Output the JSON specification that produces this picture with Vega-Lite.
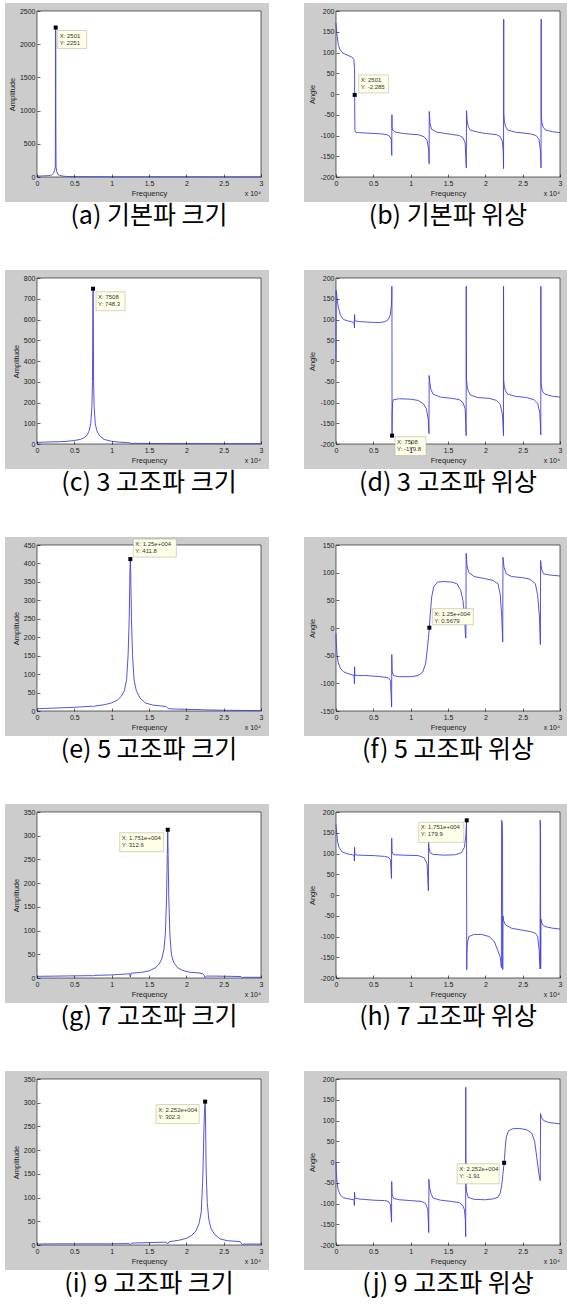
{
"$schema": "https://vega.github.io/schema/vega-lite/v6.json",
"background": "white",
"padding": {"left": 5, "top": 3, "right": 0, "bottom": 5},
"config": {
  "view": {"stroke": null},
  "axis": {"grid": false, "domain": false, "labelFont": "Liberation Sans", "labelFontSize": 7, "labelColor": "#222222", "labelOverlap": false, "titleFont": "Liberation Sans", "titleFontSize": 7.5, "titleFontWeight": "normal", "titleColor": "#222222", "tickSize": -3, "tickColor": "#000000", "tickWidth": 0.6, "labelPadding": 5, "labelFlush": false, "titlePadding": 3},
  "title": {"orient": "bottom", "anchor": "middle", "fontSize": 25, "font": "Noto Sans CJK KR", "fontWeight": "normal", "color": "#000000", "offset": 2}
},
"datasets": {
  "a": [{"f":0,"v":14},{"f":500,"v":15},{"f":1000,"v":17},{"f":1500,"v":20},{"f":1800,"v":25},{"f":2000,"v":33},{"f":2200,"v":55},{"f":2350,"v":95},{"f":2450,"v":150},{"f":2490,"v":1260},{"f":2501,"v":2251},{"f":2512,"v":1260},{"f":2550,"v":150},{"f":2650,"v":80},{"f":2800,"v":40},{"f":3000,"v":25},{"f":3500,"v":12},{"f":4000,"v":8},{"f":5000,"v":5},{"f":7500,"v":4},{"f":10000,"v":3},{"f":15000,"v":3},{"f":20000,"v":3},{"f":25000,"v":2},{"f":30000,"v":2}],
  "b": [{"f":0,"v":171},{"f":50,"v":160},{"f":150,"v":140},{"f":300,"v":120},{"f":500,"v":108},{"f":800,"v":100},{"f":1200,"v":96},{"f":1600,"v":93},{"f":2000,"v":90},{"f":2250,"v":87},{"f":2400,"v":83},{"f":2470,"v":60},{"f":2490,"v":55},{"f":2501,"v":-2.285},{"f":2515,"v":-60},{"f":2540,"v":-88},{"f":2650,"v":-92},{"f":3000,"v":-93},{"f":4000,"v":-94},{"f":5000,"v":-95},{"f":6000,"v":-96},{"f":6800,"v":-98},{"f":7200,"v":-102},{"f":7400,"v":-110},{"f":7470,"v":-148},{"f":7490,"v":-50},{"f":7510,"v":-80},{"f":7600,"v":-87},{"f":8000,"v":-92},{"f":9000,"v":-95},{"f":10000,"v":-97},{"f":11000,"v":-98},{"f":11800,"v":-103},{"f":12200,"v":-112},{"f":12420,"v":-135},{"f":12470,"v":-168},{"f":12490,"v":-42},{"f":12510,"v":-48},{"f":12600,"v":-72},{"f":12800,"v":-85},{"f":13500,"v":-92},{"f":15000,"v":-96},{"f":16500,"v":-100},{"f":17000,"v":-105},{"f":17300,"v":-118},{"f":17450,"v":-178},{"f":17480,"v":-40},{"f":17550,"v":-62},{"f":17700,"v":-78},{"f":18000,"v":-87},{"f":19000,"v":-92},{"f":20000,"v":-95},{"f":21500,"v":-98},{"f":22000,"v":-103},{"f":22300,"v":-115},{"f":22400,"v":-140},{"f":22440,"v":-180},{"f":22445,"v":180},{"f":22475,"v":180},{"f":22480,"v":-48},{"f":22550,"v":-65},{"f":22700,"v":-78},{"f":23000,"v":-87},{"f":24000,"v":-92},{"f":25000,"v":-94},{"f":26000,"v":-96},{"f":26800,"v":-100},{"f":27200,"v":-110},{"f":27400,"v":-140},{"f":27460,"v":-178},{"f":27470,"v":180},{"f":27490,"v":180},{"f":27495,"v":-50},{"f":27550,"v":-65},{"f":27700,"v":-78},{"f":28000,"v":-86},{"f":29000,"v":-91},{"f":30000,"v":-93}],
  "c": [{"f":0,"v":8},{"f":1000,"v":9},{"f":2000,"v":10},{"f":3000,"v":11},{"f":4000,"v":13},{"f":5000,"v":17},{"f":5800,"v":22},{"f":6300,"v":30},{"f":6700,"v":42},{"f":7000,"v":65},{"f":7200,"v":100},{"f":7350,"v":180},{"f":7430,"v":300},{"f":7480,"v":650},{"f":7508,"v":748.3},{"f":7530,"v":650},{"f":7580,"v":300},{"f":7650,"v":180},{"f":7800,"v":100},{"f":8000,"v":65},{"f":8400,"v":38},{"f":9000,"v":22},{"f":10000,"v":13},{"f":11000,"v":9},{"f":12000,"v":7},{"f":12400,"v":6},{"f":12600,"v":3},{"f":13500,"v":3},{"f":15000,"v":2.5},{"f":17500,"v":2},{"f":20000,"v":2},{"f":25000,"v":1.5},{"f":30000,"v":1.5}],
  "d": [{"f":0,"v":0},{"f":20,"v":170},{"f":150,"v":150},{"f":300,"v":130},{"f":600,"v":110},{"f":1000,"v":100},{"f":1500,"v":97},{"f":2000,"v":95},{"f":2400,"v":93},{"f":2470,"v":80},{"f":2490,"v":112},{"f":2520,"v":97},{"f":3000,"v":95},{"f":4000,"v":94},{"f":5000,"v":93},{"f":6000,"v":93},{"f":6600,"v":95},{"f":7000,"v":100},{"f":7250,"v":110},{"f":7400,"v":130},{"f":7460,"v":150},{"f":7480,"v":180},{"f":7495,"v":140},{"f":7508,"v":-179.8},{"f":7520,"v":-130},{"f":7580,"v":-100},{"f":7700,"v":-93},{"f":8500,"v":-91},{"f":10000,"v":-92},{"f":11000,"v":-95},{"f":11700,"v":-103},{"f":12100,"v":-115},{"f":12350,"v":-140},{"f":12450,"v":-175},{"f":12480,"v":-35},{"f":12550,"v":-50},{"f":12700,"v":-68},{"f":13000,"v":-80},{"f":14000,"v":-87},{"f":15500,"v":-90},{"f":16500,"v":-93},{"f":17000,"v":-100},{"f":17300,"v":-115},{"f":17430,"v":-180},{"f":17440,"v":180},{"f":17460,"v":-40},{"f":17550,"v":-58},{"f":17700,"v":-72},{"f":18000,"v":-82},{"f":19000,"v":-88},{"f":20500,"v":-90},{"f":21500,"v":-95},{"f":22000,"v":-105},{"f":22300,"v":-130},{"f":22430,"v":-180},{"f":22440,"v":180},{"f":22460,"v":-45},{"f":22550,"v":-62},{"f":22700,"v":-72},{"f":23000,"v":-80},{"f":24000,"v":-85},{"f":25500,"v":-88},{"f":26500,"v":-93},{"f":27000,"v":-102},{"f":27300,"v":-125},{"f":27430,"v":-178},{"f":27440,"v":180},{"f":27460,"v":-50},{"f":27550,"v":-65},{"f":27700,"v":-74},{"f":28000,"v":-80},{"f":29000,"v":-85},{"f":30000,"v":-87}],
  "e": [{"f":0,"v":6},{"f":1000,"v":7},{"f":2500,"v":8},{"f":5000,"v":10},{"f":7400,"v":13},{"f":7500,"v":11},{"f":7600,"v":13},{"f":9000,"v":17},{"f":10000,"v":22},{"f":10800,"v":30},{"f":11300,"v":40},{"f":11700,"v":55},{"f":12000,"v":85},{"f":12200,"v":150},{"f":12350,"v":250},{"f":12450,"v":380},{"f":12500,"v":411.8},{"f":12550,"v":380},{"f":12650,"v":250},{"f":12800,"v":150},{"f":13000,"v":85},{"f":13300,"v":55},{"f":13800,"v":35},{"f":14500,"v":22},{"f":15500,"v":16},{"f":16500,"v":14},{"f":17300,"v":12},{"f":17500,"v":8},{"f":17700,"v":6},{"f":19000,"v":5},{"f":21000,"v":4},{"f":22500,"v":3},{"f":25000,"v":2},{"f":27500,"v":1.5},{"f":30000,"v":1}],
  "f": [{"f":0,"v":-10},{"f":50,"v":-30},{"f":150,"v":-50},{"f":300,"v":-63},{"f":600,"v":-73},{"f":1000,"v":-79},{"f":1500,"v":-82},{"f":2000,"v":-84},{"f":2420,"v":-86},{"f":2470,"v":-101},{"f":2490,"v":-70},{"f":2520,"v":-85},{"f":3000,"v":-86},{"f":4000,"v":-86},{"f":5000,"v":-87},{"f":6000,"v":-88},{"f":7000,"v":-90},{"f":7300,"v":-95},{"f":7450,"v":-143},{"f":7470,"v":-48},{"f":7520,"v":-78},{"f":7700,"v":-86},{"f":8500,"v":-88},{"f":10000,"v":-88},{"f":11000,"v":-86},{"f":11600,"v":-80},{"f":12000,"v":-65},{"f":12250,"v":-35},{"f":12400,"v":-15},{"f":12500,"v":0.5679},{"f":12600,"v":20},{"f":12800,"v":55},{"f":13100,"v":75},{"f":13600,"v":83},{"f":14500,"v":84},{"f":15500,"v":83},{"f":16200,"v":80},{"f":16700,"v":68},{"f":17000,"v":50},{"f":17200,"v":25},{"f":17350,"v":-18},{"f":17400,"v":-18},{"f":17430,"v":135},{"f":17550,"v":112},{"f":17800,"v":100},{"f":18500,"v":93},{"f":20000,"v":89},{"f":21000,"v":86},{"f":21700,"v":80},{"f":22000,"v":60},{"f":22200,"v":20},{"f":22330,"v":-25},{"f":22360,"v":128},{"f":22500,"v":110},{"f":22800,"v":98},{"f":23500,"v":93},{"f":25000,"v":91},{"f":26000,"v":88},{"f":26700,"v":80},{"f":27000,"v":60},{"f":27250,"v":20},{"f":27370,"v":-30},{"f":27400,"v":122},{"f":27550,"v":105},{"f":27800,"v":98},{"f":28500,"v":96},{"f":30000,"v":94}],
  "g": [{"f":0,"v":3.5},{"f":2500,"v":4},{"f":5000,"v":4.5},{"f":7400,"v":5},{"f":7500,"v":4},{"f":7600,"v":5.5},{"f":10000,"v":6.5},{"f":12000,"v":8.5},{"f":12400,"v":9},{"f":12500,"v":2},{"f":12600,"v":10},{"f":14000,"v":12},{"f":15000,"v":15},{"f":15800,"v":21},{"f":16300,"v":28},{"f":16700,"v":40},{"f":17000,"v":60},{"f":17200,"v":95},{"f":17350,"v":170},{"f":17450,"v":260},{"f":17510,"v":312.6},{"f":17560,"v":260},{"f":17650,"v":170},{"f":17800,"v":90},{"f":18000,"v":50},{"f":18300,"v":33},{"f":18800,"v":22},{"f":19500,"v":16},{"f":20500,"v":12},{"f":21500,"v":11},{"f":22200,"v":9},{"f":22400,"v":5},{"f":22500,"v":1},{"f":22700,"v":4},{"f":24000,"v":4},{"f":26000,"v":3.5},{"f":27300,"v":3},{"f":27500,"v":0.5},{"f":27700,"v":1.5},{"f":30000,"v":1.5}],
  "h": [{"f":0,"v":170},{"f":50,"v":160},{"f":200,"v":130},{"f":400,"v":115},{"f":800,"v":104},{"f":1500,"v":99},{"f":2200,"v":97},{"f":2430,"v":95},{"f":2460,"v":82},{"f":2490,"v":115},{"f":2520,"v":97},{"f":3000,"v":96},{"f":5000,"v":95},{"f":6500,"v":93},{"f":7000,"v":91},{"f":7300,"v":85},{"f":7430,"v":40},{"f":7460,"v":137},{"f":7500,"v":105},{"f":7700,"v":97},{"f":9000,"v":96},{"f":11000,"v":95},{"f":11800,"v":90},{"f":12200,"v":75},{"f":12370,"v":10},{"f":12400,"v":127},{"f":12450,"v":115},{"f":12600,"v":102},{"f":13000,"v":98},{"f":14500,"v":96},{"f":16000,"v":97},{"f":16800,"v":102},{"f":17200,"v":115},{"f":17400,"v":145},{"f":17480,"v":179.9},{"f":17510,"v":-180},{"f":17530,"v":-140},{"f":17600,"v":-115},{"f":17800,"v":-100},{"f":18500,"v":-95},{"f":19500,"v":-95},{"f":20500,"v":-100},{"f":21200,"v":-112},{"f":21700,"v":-135},{"f":22000,"v":-150},{"f":22150,"v":-175},{"f":22180,"v":180},{"f":22260,"v":175},{"f":22300,"v":150},{"f":22330,"v":-180},{"f":22360,"v":-50},{"f":22450,"v":-62},{"f":22700,"v":-72},{"f":23500,"v":-80},{"f":25000,"v":-85},{"f":26000,"v":-88},{"f":26700,"v":-92},{"f":27000,"v":-100},{"f":27200,"v":-130},{"f":27330,"v":-178},{"f":27350,"v":180},{"f":27390,"v":150},{"f":27410,"v":-178},{"f":27440,"v":-58},{"f":27600,"v":-70},{"f":28000,"v":-76},{"f":29000,"v":-80},{"f":30000,"v":-82}],
  "i": [{"f":0,"v":2},{"f":2500,"v":2.5},{"f":5000,"v":2.5},{"f":10000,"v":2.5},{"f":12300,"v":3},{"f":12500,"v":1},{"f":12700,"v":4},{"f":15000,"v":5},{"f":17300,"v":6},{"f":17500,"v":2},{"f":17700,"v":7},{"f":19000,"v":10},{"f":20000,"v":14},{"f":20700,"v":20},{"f":21300,"v":30},{"f":21700,"v":45},{"f":22000,"v":70},{"f":22200,"v":140},{"f":22350,"v":240},{"f":22450,"v":290},{"f":22520,"v":302.3},{"f":22570,"v":270},{"f":22650,"v":160},{"f":22800,"v":90},{"f":23000,"v":55},{"f":23300,"v":35},{"f":23800,"v":22},{"f":24500,"v":13},{"f":25500,"v":9},{"f":26500,"v":8},{"f":27200,"v":7},{"f":27500,"v":1},{"f":27800,"v":2},{"f":30000,"v":2}],
  "j": [{"f":0,"v":0},{"f":40,"v":-25},{"f":150,"v":-50},{"f":300,"v":-68},{"f":600,"v":-80},{"f":1000,"v":-86},{"f":1500,"v":-88},{"f":2000,"v":-90},{"f":2420,"v":-91},{"f":2460,"v":-105},{"f":2490,"v":-73},{"f":2520,"v":-87},{"f":3000,"v":-89},{"f":5000,"v":-92},{"f":6500,"v":-93},{"f":7000,"v":-95},{"f":7300,"v":-103},{"f":7440,"v":-145},{"f":7460,"v":-47},{"f":7520,"v":-78},{"f":7700,"v":-88},{"f":8500,"v":-91},{"f":10000,"v":-93},{"f":11500,"v":-95},{"f":12000,"v":-100},{"f":12300,"v":-115},{"f":12420,"v":-170},{"f":12440,"v":-42},{"f":12500,"v":-58},{"f":12700,"v":-75},{"f":13000,"v":-87},{"f":14000,"v":-92},{"f":15500,"v":-95},{"f":16500,"v":-98},{"f":17000,"v":-105},{"f":17200,"v":-115},{"f":17330,"v":-140},{"f":17370,"v":-180},{"f":17380,"v":180},{"f":17400,"v":-50},{"f":17500,"v":-72},{"f":17700,"v":-85},{"f":18500,"v":-90},{"f":20000,"v":-91},{"f":21000,"v":-89},{"f":21700,"v":-85},{"f":22000,"v":-75},{"f":22200,"v":-55},{"f":22350,"v":-30},{"f":22520,"v":-1.91},{"f":22650,"v":30},{"f":22800,"v":60},{"f":23100,"v":75},{"f":23600,"v":80},{"f":24500,"v":81},{"f":25500,"v":78},{"f":26200,"v":70},{"f":26600,"v":50},{"f":26900,"v":10},{"f":27150,"v":-25},{"f":27350,"v":-45},{"f":27400,"v":117},{"f":27500,"v":108},{"f":27800,"v":100},{"f":28500,"v":95},{"f":30000,"v":92}]
},
"spacing": 41,
"vconcat": [
 {"spacing": 35, "hconcat": [
  {"width": 224, "height": 166, "title": {"text": "(a) 기본파 크기"},
   "layer": [
    {"data": {"values": [{}]}, "layer": [
      {"mark": {"type": "rect", "fill": "#cccccc", "xOffset": -32, "x2Offset": 8, "yOffset": 25, "y2Offset": -8},
       "encoding": {"x": {"datum": 0, "type": "quantitative", "title": "Frequency", "scale": {"domain": [0, 30000], "nice": false}}, "x2": {"datum": 30000}, "y": {"datum": 0, "type": "quantitative", "title": "Amplitude", "scale": {"domain": [0, 2500], "nice": false}}, "y2": {"datum": 2500}}},
      {"mark": {"type": "rect", "fill": "#ffffff", "stroke": "#000000", "strokeWidth": 0.6},
       "encoding": {"x": {"datum": 0, "type": "quantitative"}, "x2": {"datum": 30000}, "y": {"datum": 0, "type": "quantitative"}, "y2": {"datum": 2500}}},
      {"mark": {"type": "text", "text": "x 10⁴", "align": "right", "baseline": "middle", "dy": 17, "fontSize": 7, "font": "Liberation Sans", "color": "#222222"},
       "encoding": {"x": {"datum": 30000, "type": "quantitative"}, "y": {"datum": 0, "type": "quantitative"}}}
    ]},
    {"data": {"name": "a"}, "mark": {"type": "line", "color": "#4040dc", "strokeWidth": 0.9},
     "encoding": {"x": {"field": "f", "type": "quantitative", "title": "Frequency", "axis": {"zindex": 1, "tickCount": 20, "labelOverlap": false, "values": [0, 5000, 10000, 15000, 20000, 25000, 30000], "labelExpr": "format(datum.value / 10000, '~g')"}},
                  "y": {"field": "v", "type": "quantitative", "title": "Amplitude", "axis": {"zindex": 1, "tickCount": 20, "labelOverlap": false, "values": [0, 500, 1000, 1500, 2000, 2500], "labelExpr": "'' + datum.value"}}}},
    {"data": {"values": [{"f": 2501, "v": 2251, "tip": "X: 2501\nY: 2251"}]}, "layer": [
      {"mark": {"type": "rect", "fill": "#ffffe8", "stroke": "#a8a890", "strokeWidth": 0.5, "xOffset": 2, "x2Offset": 31, "yOffset": 3, "y2Offset": 21},
       "encoding": {"x": {"field": "f", "type": "quantitative"}, "x2": {"field": "f"}, "y": {"field": "v", "type": "quantitative"}, "y2": {"field": "v"}}},
      {"mark": {"type": "text", "align": "left", "baseline": "top", "dx": 4, "dy": 5, "fontSize": 6, "lineHeight": 7, "lineBreak": "\n", "font": "Liberation Sans", "color": "#333333"},
       "encoding": {"x": {"field": "f", "type": "quantitative"}, "y": {"field": "v", "type": "quantitative"}, "text": {"field": "tip"}}},
      {"mark": {"type": "square", "color": "#000000", "size": 16, "opacity": 1},
       "encoding": {"x": {"field": "f", "type": "quantitative"}, "y": {"field": "v", "type": "quantitative"}}}
    ]}
   ]},
  {"width": 224, "height": 166, "title": {"text": "(b) 기본파 위상"},
   "layer": [
    {"data": {"values": [{}]}, "layer": [
      {"mark": {"type": "rect", "fill": "#cccccc", "xOffset": -32, "x2Offset": 8, "yOffset": 25, "y2Offset": -8},
       "encoding": {"x": {"datum": 0, "type": "quantitative", "title": "Frequency", "scale": {"domain": [0, 30000], "nice": false}}, "x2": {"datum": 30000}, "y": {"datum": -200, "type": "quantitative", "title": "Angle", "scale": {"domain": [-200, 200], "nice": false}}, "y2": {"datum": 200}}},
      {"mark": {"type": "rect", "fill": "#ffffff", "stroke": "#000000", "strokeWidth": 0.6},
       "encoding": {"x": {"datum": 0, "type": "quantitative"}, "x2": {"datum": 30000}, "y": {"datum": -200, "type": "quantitative"}, "y2": {"datum": 200}}},
      {"mark": {"type": "text", "text": "x 10⁴", "align": "right", "baseline": "middle", "dy": 17, "fontSize": 7, "font": "Liberation Sans", "color": "#222222"},
       "encoding": {"x": {"datum": 30000, "type": "quantitative"}, "y": {"datum": -200, "type": "quantitative"}}}
    ]},
    {"data": {"name": "b"}, "mark": {"type": "line", "color": "#4040dc", "strokeWidth": 0.9},
     "encoding": {"x": {"field": "f", "type": "quantitative", "title": "Frequency", "axis": {"zindex": 1, "tickCount": 20, "labelOverlap": false, "values": [0, 5000, 10000, 15000, 20000, 25000, 30000], "labelExpr": "format(datum.value / 10000, '~g')"}},
                  "y": {"field": "v", "type": "quantitative", "title": "Angle", "axis": {"zindex": 1, "tickCount": 20, "labelOverlap": false, "values": [-200, -150, -100, -50, 0, 50, 100, 150, 200], "labelExpr": "'' + datum.value"}}}},
    {"data": {"values": [{"f": 2501, "v": -2.285, "tip": "X: 2501\nY: -2.285"}]}, "layer": [
      {"mark": {"type": "rect", "fill": "#ffffe8", "stroke": "#a8a890", "strokeWidth": 0.5, "xOffset": 4, "x2Offset": 34, "yOffset": -20, "y2Offset": -2},
       "encoding": {"x": {"field": "f", "type": "quantitative"}, "x2": {"field": "f"}, "y": {"field": "v", "type": "quantitative"}, "y2": {"field": "v"}}},
      {"mark": {"type": "text", "align": "left", "baseline": "top", "dx": 6, "dy": -18, "fontSize": 6, "lineHeight": 7, "lineBreak": "\n", "font": "Liberation Sans", "color": "#333333"},
       "encoding": {"x": {"field": "f", "type": "quantitative"}, "y": {"field": "v", "type": "quantitative"}, "text": {"field": "tip"}}},
      {"mark": {"type": "square", "color": "#000000", "size": 16, "opacity": 1},
       "encoding": {"x": {"field": "f", "type": "quantitative"}, "y": {"field": "v", "type": "quantitative"}}}
    ]}
   ]}
 ]},
 {"spacing": 35, "hconcat": [
  {"width": 224, "height": 166, "title": {"text": "(c) 3 고조파 크기"},
   "layer": [
    {"data": {"values": [{}]}, "layer": [
      {"mark": {"type": "rect", "fill": "#cccccc", "xOffset": -32, "x2Offset": 8, "yOffset": 25, "y2Offset": -8},
       "encoding": {"x": {"datum": 0, "type": "quantitative", "title": "Frequency", "scale": {"domain": [0, 30000], "nice": false}}, "x2": {"datum": 30000}, "y": {"datum": 0, "type": "quantitative", "title": "Amplitude", "scale": {"domain": [0, 800], "nice": false}}, "y2": {"datum": 800}}},
      {"mark": {"type": "rect", "fill": "#ffffff", "stroke": "#000000", "strokeWidth": 0.6},
       "encoding": {"x": {"datum": 0, "type": "quantitative"}, "x2": {"datum": 30000}, "y": {"datum": 0, "type": "quantitative"}, "y2": {"datum": 800}}},
      {"mark": {"type": "text", "text": "x 10⁴", "align": "right", "baseline": "middle", "dy": 17, "fontSize": 7, "font": "Liberation Sans", "color": "#222222"},
       "encoding": {"x": {"datum": 30000, "type": "quantitative"}, "y": {"datum": 0, "type": "quantitative"}}}
    ]},
    {"data": {"name": "c"}, "mark": {"type": "line", "color": "#4040dc", "strokeWidth": 0.9},
     "encoding": {"x": {"field": "f", "type": "quantitative", "title": "Frequency", "axis": {"zindex": 1, "tickCount": 20, "labelOverlap": false, "values": [0, 5000, 10000, 15000, 20000, 25000, 30000], "labelExpr": "format(datum.value / 10000, '~g')"}},
                  "y": {"field": "v", "type": "quantitative", "title": "Amplitude", "axis": {"zindex": 1, "tickCount": 20, "labelOverlap": false, "values": [0, 100, 200, 300, 400, 500, 600, 700, 800], "labelExpr": "'' + datum.value"}}}},
    {"data": {"values": [{"f": 7508, "v": 748.3, "tip": "X: 7508\nY: 748.3"}]}, "layer": [
      {"mark": {"type": "rect", "fill": "#ffffe8", "stroke": "#a8a890", "strokeWidth": 0.5, "xOffset": 3, "x2Offset": 32, "yOffset": 3, "y2Offset": 22},
       "encoding": {"x": {"field": "f", "type": "quantitative"}, "x2": {"field": "f"}, "y": {"field": "v", "type": "quantitative"}, "y2": {"field": "v"}}},
      {"mark": {"type": "text", "align": "left", "baseline": "top", "dx": 5, "dy": 5, "fontSize": 6, "lineHeight": 7, "lineBreak": "\n", "font": "Liberation Sans", "color": "#333333"},
       "encoding": {"x": {"field": "f", "type": "quantitative"}, "y": {"field": "v", "type": "quantitative"}, "text": {"field": "tip"}}},
      {"mark": {"type": "square", "color": "#000000", "size": 16, "opacity": 1},
       "encoding": {"x": {"field": "f", "type": "quantitative"}, "y": {"field": "v", "type": "quantitative"}}}
    ]}
   ]},
  {"width": 224, "height": 166, "title": {"text": "(d) 3 고조파 위상"},
   "layer": [
    {"data": {"values": [{}]}, "layer": [
      {"mark": {"type": "rect", "fill": "#cccccc", "xOffset": -32, "x2Offset": 8, "yOffset": 25, "y2Offset": -8},
       "encoding": {"x": {"datum": 0, "type": "quantitative", "title": "Frequency", "scale": {"domain": [0, 30000], "nice": false}}, "x2": {"datum": 30000}, "y": {"datum": -200, "type": "quantitative", "title": "Angle", "scale": {"domain": [-200, 200], "nice": false}}, "y2": {"datum": 200}}},
      {"mark": {"type": "rect", "fill": "#ffffff", "stroke": "#000000", "strokeWidth": 0.6},
       "encoding": {"x": {"datum": 0, "type": "quantitative"}, "x2": {"datum": 30000}, "y": {"datum": -200, "type": "quantitative"}, "y2": {"datum": 200}}},
      {"mark": {"type": "text", "text": "x 10⁴", "align": "right", "baseline": "middle", "dy": 17, "fontSize": 7, "font": "Liberation Sans", "color": "#222222"},
       "encoding": {"x": {"datum": 30000, "type": "quantitative"}, "y": {"datum": -200, "type": "quantitative"}}}
    ]},
    {"data": {"name": "d"}, "mark": {"type": "line", "color": "#4040dc", "strokeWidth": 0.9},
     "encoding": {"x": {"field": "f", "type": "quantitative", "title": "Frequency", "axis": {"zindex": 1, "tickCount": 20, "labelOverlap": false, "values": [0, 5000, 10000, 15000, 20000, 25000, 30000], "labelExpr": "format(datum.value / 10000, '~g')"}},
                  "y": {"field": "v", "type": "quantitative", "title": "Angle", "axis": {"zindex": 1, "tickCount": 20, "labelOverlap": false, "values": [-200, -150, -100, -50, 0, 50, 100, 150, 200], "labelExpr": "'' + datum.value"}}}},
    {"data": {"values": [{"f": 7508, "v": -179.8, "tip": "X: 7508\nY: -179.8"}]}, "layer": [
      {"mark": {"type": "rect", "fill": "#ffffe8", "stroke": "#a8a890", "strokeWidth": 0.5, "xOffset": 3, "x2Offset": 34, "yOffset": 1, "y2Offset": 20},
       "encoding": {"x": {"field": "f", "type": "quantitative"}, "x2": {"field": "f"}, "y": {"field": "v", "type": "quantitative"}, "y2": {"field": "v"}}},
      {"mark": {"type": "text", "align": "left", "baseline": "top", "dx": 5, "dy": 3, "fontSize": 6, "lineHeight": 7, "lineBreak": "\n", "font": "Liberation Sans", "color": "#333333"},
       "encoding": {"x": {"field": "f", "type": "quantitative"}, "y": {"field": "v", "type": "quantitative"}, "text": {"field": "tip"}}},
      {"mark": {"type": "square", "color": "#000000", "size": 16, "opacity": 1},
       "encoding": {"x": {"field": "f", "type": "quantitative"}, "y": {"field": "v", "type": "quantitative"}}}
    ]}
   ]}
 ]},
 {"spacing": 35, "hconcat": [
  {"width": 224, "height": 166, "title": {"text": "(e) 5 고조파 크기"},
   "layer": [
    {"data": {"values": [{}]}, "layer": [
      {"mark": {"type": "rect", "fill": "#cccccc", "xOffset": -32, "x2Offset": 8, "yOffset": 25, "y2Offset": -8},
       "encoding": {"x": {"datum": 0, "type": "quantitative", "title": "Frequency", "scale": {"domain": [0, 30000], "nice": false}}, "x2": {"datum": 30000}, "y": {"datum": 0, "type": "quantitative", "title": "Amplitude", "scale": {"domain": [0, 450], "nice": false}}, "y2": {"datum": 450}}},
      {"mark": {"type": "rect", "fill": "#ffffff", "stroke": "#000000", "strokeWidth": 0.6},
       "encoding": {"x": {"datum": 0, "type": "quantitative"}, "x2": {"datum": 30000}, "y": {"datum": 0, "type": "quantitative"}, "y2": {"datum": 450}}},
      {"mark": {"type": "text", "text": "x 10⁴", "align": "right", "baseline": "middle", "dy": 17, "fontSize": 7, "font": "Liberation Sans", "color": "#222222"},
       "encoding": {"x": {"datum": 30000, "type": "quantitative"}, "y": {"datum": 0, "type": "quantitative"}}}
    ]},
    {"data": {"name": "e"}, "mark": {"type": "line", "color": "#4040dc", "strokeWidth": 0.9},
     "encoding": {"x": {"field": "f", "type": "quantitative", "title": "Frequency", "axis": {"zindex": 1, "tickCount": 20, "labelOverlap": false, "values": [0, 5000, 10000, 15000, 20000, 25000, 30000], "labelExpr": "format(datum.value / 10000, '~g')"}},
                  "y": {"field": "v", "type": "quantitative", "title": "Amplitude", "axis": {"zindex": 1, "tickCount": 20, "labelOverlap": false, "values": [0, 50, 100, 150, 200, 250, 300, 350, 400, 450], "labelExpr": "'' + datum.value"}}}},
    {"data": {"values": [{"f": 12500, "v": 411.8, "tip": "X: 1.25e+004\nY: 411.8"}]}, "layer": [
      {"mark": {"type": "rect", "fill": "#ffffe8", "stroke": "#a8a890", "strokeWidth": 0.5, "xOffset": 3, "x2Offset": 46, "yOffset": -20, "y2Offset": -2},
       "encoding": {"x": {"field": "f", "type": "quantitative"}, "x2": {"field": "f"}, "y": {"field": "v", "type": "quantitative"}, "y2": {"field": "v"}}},
      {"mark": {"type": "text", "align": "left", "baseline": "top", "dx": 5, "dy": -18, "fontSize": 6, "lineHeight": 7, "lineBreak": "\n", "font": "Liberation Sans", "color": "#333333"},
       "encoding": {"x": {"field": "f", "type": "quantitative"}, "y": {"field": "v", "type": "quantitative"}, "text": {"field": "tip"}}},
      {"mark": {"type": "square", "color": "#000000", "size": 16, "opacity": 1},
       "encoding": {"x": {"field": "f", "type": "quantitative"}, "y": {"field": "v", "type": "quantitative"}}}
    ]}
   ]},
  {"width": 224, "height": 166, "title": {"text": "(f) 5 고조파 위상"},
   "layer": [
    {"data": {"values": [{}]}, "layer": [
      {"mark": {"type": "rect", "fill": "#cccccc", "xOffset": -32, "x2Offset": 8, "yOffset": 25, "y2Offset": -8},
       "encoding": {"x": {"datum": 0, "type": "quantitative", "title": "Frequency", "scale": {"domain": [0, 30000], "nice": false}}, "x2": {"datum": 30000}, "y": {"datum": -150, "type": "quantitative", "title": "Angle", "scale": {"domain": [-150, 150], "nice": false}}, "y2": {"datum": 150}}},
      {"mark": {"type": "rect", "fill": "#ffffff", "stroke": "#000000", "strokeWidth": 0.6},
       "encoding": {"x": {"datum": 0, "type": "quantitative"}, "x2": {"datum": 30000}, "y": {"datum": -150, "type": "quantitative"}, "y2": {"datum": 150}}},
      {"mark": {"type": "text", "text": "x 10⁴", "align": "right", "baseline": "middle", "dy": 17, "fontSize": 7, "font": "Liberation Sans", "color": "#222222"},
       "encoding": {"x": {"datum": 30000, "type": "quantitative"}, "y": {"datum": -150, "type": "quantitative"}}}
    ]},
    {"data": {"name": "f"}, "mark": {"type": "line", "color": "#4040dc", "strokeWidth": 0.9},
     "encoding": {"x": {"field": "f", "type": "quantitative", "title": "Frequency", "axis": {"zindex": 1, "tickCount": 20, "labelOverlap": false, "values": [0, 5000, 10000, 15000, 20000, 25000, 30000], "labelExpr": "format(datum.value / 10000, '~g')"}},
                  "y": {"field": "v", "type": "quantitative", "title": "Angle", "axis": {"zindex": 1, "tickCount": 20, "labelOverlap": false, "values": [-150, -100, -50, 0, 50, 100, 150], "labelExpr": "'' + datum.value"}}}},
    {"data": {"values": [{"f": 12500, "v": 0.5679, "tip": "X: 1.25e+004\nY: 0.5679"}]}, "layer": [
      {"mark": {"type": "rect", "fill": "#ffffe8", "stroke": "#a8a890", "strokeWidth": 0.5, "xOffset": 3, "x2Offset": 44, "yOffset": -19, "y2Offset": -3},
       "encoding": {"x": {"field": "f", "type": "quantitative"}, "x2": {"field": "f"}, "y": {"field": "v", "type": "quantitative"}, "y2": {"field": "v"}}},
      {"mark": {"type": "text", "align": "left", "baseline": "top", "dx": 5, "dy": -17, "fontSize": 6, "lineHeight": 7, "lineBreak": "\n", "font": "Liberation Sans", "color": "#333333"},
       "encoding": {"x": {"field": "f", "type": "quantitative"}, "y": {"field": "v", "type": "quantitative"}, "text": {"field": "tip"}}},
      {"mark": {"type": "square", "color": "#000000", "size": 16, "opacity": 1},
       "encoding": {"x": {"field": "f", "type": "quantitative"}, "y": {"field": "v", "type": "quantitative"}}}
    ]}
   ]}
 ]},
 {"spacing": 35, "hconcat": [
  {"width": 224, "height": 166, "title": {"text": "(g) 7 고조파 크기"},
   "layer": [
    {"data": {"values": [{}]}, "layer": [
      {"mark": {"type": "rect", "fill": "#cccccc", "xOffset": -32, "x2Offset": 8, "yOffset": 25, "y2Offset": -8},
       "encoding": {"x": {"datum": 0, "type": "quantitative", "title": "Frequency", "scale": {"domain": [0, 30000], "nice": false}}, "x2": {"datum": 30000}, "y": {"datum": 0, "type": "quantitative", "title": "Amplitude", "scale": {"domain": [0, 350], "nice": false}}, "y2": {"datum": 350}}},
      {"mark": {"type": "rect", "fill": "#ffffff", "stroke": "#000000", "strokeWidth": 0.6},
       "encoding": {"x": {"datum": 0, "type": "quantitative"}, "x2": {"datum": 30000}, "y": {"datum": 0, "type": "quantitative"}, "y2": {"datum": 350}}},
      {"mark": {"type": "text", "text": "x 10⁴", "align": "right", "baseline": "middle", "dy": 17, "fontSize": 7, "font": "Liberation Sans", "color": "#222222"},
       "encoding": {"x": {"datum": 30000, "type": "quantitative"}, "y": {"datum": 0, "type": "quantitative"}}}
    ]},
    {"data": {"name": "g"}, "mark": {"type": "line", "color": "#4040dc", "strokeWidth": 0.9},
     "encoding": {"x": {"field": "f", "type": "quantitative", "title": "Frequency", "axis": {"zindex": 1, "tickCount": 20, "labelOverlap": false, "values": [0, 5000, 10000, 15000, 20000, 25000, 30000], "labelExpr": "format(datum.value / 10000, '~g')"}},
                  "y": {"field": "v", "type": "quantitative", "title": "Amplitude", "axis": {"zindex": 1, "tickCount": 20, "labelOverlap": false, "values": [0, 50, 100, 150, 200, 250, 300, 350], "labelExpr": "'' + datum.value"}}}},
    {"data": {"values": [{"f": 17510, "v": 312.6, "tip": "X: 1.751e+004\nY: 312.6"}]}, "layer": [
      {"mark": {"type": "rect", "fill": "#ffffe8", "stroke": "#a8a890", "strokeWidth": 0.5, "xOffset": -48, "x2Offset": -4, "yOffset": 3, "y2Offset": 22},
       "encoding": {"x": {"field": "f", "type": "quantitative"}, "x2": {"field": "f"}, "y": {"field": "v", "type": "quantitative"}, "y2": {"field": "v"}}},
      {"mark": {"type": "text", "align": "left", "baseline": "top", "dx": -46, "dy": 5, "fontSize": 6, "lineHeight": 7, "lineBreak": "\n", "font": "Liberation Sans", "color": "#333333"},
       "encoding": {"x": {"field": "f", "type": "quantitative"}, "y": {"field": "v", "type": "quantitative"}, "text": {"field": "tip"}}},
      {"mark": {"type": "square", "color": "#000000", "size": 16, "opacity": 1},
       "encoding": {"x": {"field": "f", "type": "quantitative"}, "y": {"field": "v", "type": "quantitative"}}}
    ]}
   ]},
  {"width": 224, "height": 166, "title": {"text": "(h) 7 고조파 위상"},
   "layer": [
    {"data": {"values": [{}]}, "layer": [
      {"mark": {"type": "rect", "fill": "#cccccc", "xOffset": -32, "x2Offset": 8, "yOffset": 25, "y2Offset": -8},
       "encoding": {"x": {"datum": 0, "type": "quantitative", "title": "Frequency", "scale": {"domain": [0, 30000], "nice": false}}, "x2": {"datum": 30000}, "y": {"datum": -200, "type": "quantitative", "title": "Angle", "scale": {"domain": [-200, 200], "nice": false}}, "y2": {"datum": 200}}},
      {"mark": {"type": "rect", "fill": "#ffffff", "stroke": "#000000", "strokeWidth": 0.6},
       "encoding": {"x": {"datum": 0, "type": "quantitative"}, "x2": {"datum": 30000}, "y": {"datum": -200, "type": "quantitative"}, "y2": {"datum": 200}}},
      {"mark": {"type": "text", "text": "x 10⁴", "align": "right", "baseline": "middle", "dy": 17, "fontSize": 7, "font": "Liberation Sans", "color": "#222222"},
       "encoding": {"x": {"datum": 30000, "type": "quantitative"}, "y": {"datum": -200, "type": "quantitative"}}}
    ]},
    {"data": {"name": "h"}, "mark": {"type": "line", "color": "#4040dc", "strokeWidth": 0.9},
     "encoding": {"x": {"field": "f", "type": "quantitative", "title": "Frequency", "axis": {"zindex": 1, "tickCount": 20, "labelOverlap": false, "values": [0, 5000, 10000, 15000, 20000, 25000, 30000], "labelExpr": "format(datum.value / 10000, '~g')"}},
                  "y": {"field": "v", "type": "quantitative", "title": "Angle", "axis": {"zindex": 1, "tickCount": 20, "labelOverlap": false, "values": [-200, -150, -100, -50, 0, 50, 100, 150, 200], "labelExpr": "'' + datum.value"}}}},
    {"data": {"values": [{"f": 17510, "v": 179.9, "tip": "X: 1.751e+004\nY: 179.9"}]}, "layer": [
      {"mark": {"type": "rect", "fill": "#ffffe8", "stroke": "#a8a890", "strokeWidth": 0.5, "xOffset": -48, "x2Offset": -3, "yOffset": 2, "y2Offset": 22},
       "encoding": {"x": {"field": "f", "type": "quantitative"}, "x2": {"field": "f"}, "y": {"field": "v", "type": "quantitative"}, "y2": {"field": "v"}}},
      {"mark": {"type": "text", "align": "left", "baseline": "top", "dx": -46, "dy": 4, "fontSize": 6, "lineHeight": 7, "lineBreak": "\n", "font": "Liberation Sans", "color": "#333333"},
       "encoding": {"x": {"field": "f", "type": "quantitative"}, "y": {"field": "v", "type": "quantitative"}, "text": {"field": "tip"}}},
      {"mark": {"type": "square", "color": "#000000", "size": 16, "opacity": 1},
       "encoding": {"x": {"field": "f", "type": "quantitative"}, "y": {"field": "v", "type": "quantitative"}}}
    ]}
   ]}
 ]},
 {"spacing": 35, "hconcat": [
  {"width": 224, "height": 166, "title": {"text": "(i) 9 고조파 크기"},
   "layer": [
    {"data": {"values": [{}]}, "layer": [
      {"mark": {"type": "rect", "fill": "#cccccc", "xOffset": -32, "x2Offset": 8, "yOffset": 25, "y2Offset": -8},
       "encoding": {"x": {"datum": 0, "type": "quantitative", "title": "Frequency", "scale": {"domain": [0, 30000], "nice": false}}, "x2": {"datum": 30000}, "y": {"datum": 0, "type": "quantitative", "title": "Amplitude", "scale": {"domain": [0, 350], "nice": false}}, "y2": {"datum": 350}}},
      {"mark": {"type": "rect", "fill": "#ffffff", "stroke": "#000000", "strokeWidth": 0.6},
       "encoding": {"x": {"datum": 0, "type": "quantitative"}, "x2": {"datum": 30000}, "y": {"datum": 0, "type": "quantitative"}, "y2": {"datum": 350}}},
      {"mark": {"type": "text", "text": "x 10⁴", "align": "right", "baseline": "middle", "dy": 17, "fontSize": 7, "font": "Liberation Sans", "color": "#222222"},
       "encoding": {"x": {"datum": 30000, "type": "quantitative"}, "y": {"datum": 0, "type": "quantitative"}}}
    ]},
    {"data": {"name": "i"}, "mark": {"type": "line", "color": "#4040dc", "strokeWidth": 0.9},
     "encoding": {"x": {"field": "f", "type": "quantitative", "title": "Frequency", "axis": {"zindex": 1, "tickCount": 20, "labelOverlap": false, "values": [0, 5000, 10000, 15000, 20000, 25000, 30000], "labelExpr": "format(datum.value / 10000, '~g')"}},
                  "y": {"field": "v", "type": "quantitative", "title": "Amplitude", "axis": {"zindex": 1, "tickCount": 20, "labelOverlap": false, "values": [0, 50, 100, 150, 200, 250, 300, 350], "labelExpr": "'' + datum.value"}}}},
    {"data": {"values": [{"f": 22520, "v": 302.3, "tip": "X: 2.252e+004\nY: 302.3"}]}, "layer": [
      {"mark": {"type": "rect", "fill": "#ffffe8", "stroke": "#a8a890", "strokeWidth": 0.5, "xOffset": -49, "x2Offset": -6, "yOffset": 3, "y2Offset": 22},
       "encoding": {"x": {"field": "f", "type": "quantitative"}, "x2": {"field": "f"}, "y": {"field": "v", "type": "quantitative"}, "y2": {"field": "v"}}},
      {"mark": {"type": "text", "align": "left", "baseline": "top", "dx": -47, "dy": 5, "fontSize": 6, "lineHeight": 7, "lineBreak": "\n", "font": "Liberation Sans", "color": "#333333"},
       "encoding": {"x": {"field": "f", "type": "quantitative"}, "y": {"field": "v", "type": "quantitative"}, "text": {"field": "tip"}}},
      {"mark": {"type": "square", "color": "#000000", "size": 16, "opacity": 1},
       "encoding": {"x": {"field": "f", "type": "quantitative"}, "y": {"field": "v", "type": "quantitative"}}}
    ]}
   ]},
  {"width": 224, "height": 166, "title": {"text": "(j) 9 고조파 위상"},
   "layer": [
    {"data": {"values": [{}]}, "layer": [
      {"mark": {"type": "rect", "fill": "#cccccc", "xOffset": -32, "x2Offset": 8, "yOffset": 25, "y2Offset": -8},
       "encoding": {"x": {"datum": 0, "type": "quantitative", "title": "Frequency", "scale": {"domain": [0, 30000], "nice": false}}, "x2": {"datum": 30000}, "y": {"datum": -200, "type": "quantitative", "title": "Angle", "scale": {"domain": [-200, 200], "nice": false}}, "y2": {"datum": 200}}},
      {"mark": {"type": "rect", "fill": "#ffffff", "stroke": "#000000", "strokeWidth": 0.6},
       "encoding": {"x": {"datum": 0, "type": "quantitative"}, "x2": {"datum": 30000}, "y": {"datum": -200, "type": "quantitative"}, "y2": {"datum": 200}}},
      {"mark": {"type": "text", "text": "x 10⁴", "align": "right", "baseline": "middle", "dy": 17, "fontSize": 7, "font": "Liberation Sans", "color": "#222222"},
       "encoding": {"x": {"datum": 30000, "type": "quantitative"}, "y": {"datum": -200, "type": "quantitative"}}}
    ]},
    {"data": {"name": "j"}, "mark": {"type": "line", "color": "#4040dc", "strokeWidth": 0.9},
     "encoding": {"x": {"field": "f", "type": "quantitative", "title": "Frequency", "axis": {"zindex": 1, "tickCount": 20, "labelOverlap": false, "values": [0, 5000, 10000, 15000, 20000, 25000, 30000], "labelExpr": "format(datum.value / 10000, '~g')"}},
                  "y": {"field": "v", "type": "quantitative", "title": "Angle", "axis": {"zindex": 1, "tickCount": 20, "labelOverlap": false, "values": [-200, -150, -100, -50, 0, 50, 100, 150, 200], "labelExpr": "'' + datum.value"}}}},
    {"data": {"values": [{"f": 22520, "v": -1.91, "tip": "X: 2.252e+004\nY: -1.91"}]}, "layer": [
      {"mark": {"type": "rect", "fill": "#ffffe8", "stroke": "#a8a890", "strokeWidth": 0.5, "xOffset": -47, "x2Offset": -5, "yOffset": 1, "y2Offset": 21},
       "encoding": {"x": {"field": "f", "type": "quantitative"}, "x2": {"field": "f"}, "y": {"field": "v", "type": "quantitative"}, "y2": {"field": "v"}}},
      {"mark": {"type": "text", "align": "left", "baseline": "top", "dx": -45, "dy": 3, "fontSize": 6, "lineHeight": 7, "lineBreak": "\n", "font": "Liberation Sans", "color": "#333333"},
       "encoding": {"x": {"field": "f", "type": "quantitative"}, "y": {"field": "v", "type": "quantitative"}, "text": {"field": "tip"}}},
      {"mark": {"type": "square", "color": "#000000", "size": 16, "opacity": 1},
       "encoding": {"x": {"field": "f", "type": "quantitative"}, "y": {"field": "v", "type": "quantitative"}}}
    ]}
   ]}
 ]}
]
}
